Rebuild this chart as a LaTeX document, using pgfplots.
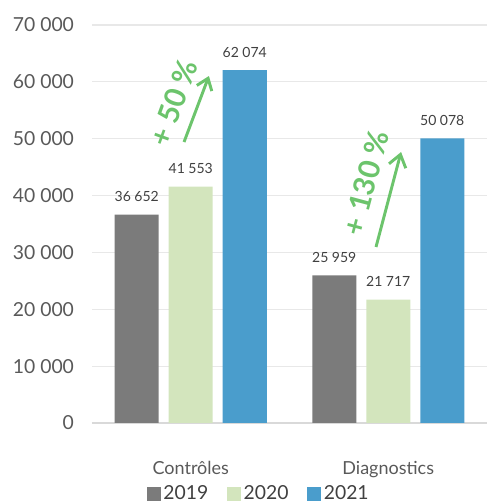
\documentclass[border=0pt]{standalone}
\usepackage{fontspec}
\setmainfont{Lato}
\usepackage{pgfplots}
\pgfplotsset{compat=1.18}
\usetikzlibrary{arrows.meta}
\definecolor{c2019}{HTML}{7B7B7B}
\definecolor{c2020}{HTML}{D3E5BD}
\definecolor{c2021}{HTML}{4A9DCC}
\definecolor{arrowgreen}{HTML}{6CC46C}
\definecolor{gridgray}{HTML}{E8E8E8}
\definecolor{axisgray}{HTML}{D9D9D9}
\definecolor{tickgray}{HTML}{595959}
\definecolor{labelgray}{HTML}{404040}
\begin{document}
\begin{tikzpicture}
\path[use as bounding box] (0,0) rectangle (365.25pt,378pt);
\begin{axis}[
  at={(69pt,60.75pt)}, anchor=south west,
  scale only axis, width=296.25pt, height=298.5pt,
  ybar=7.5pt, bar width=33pt,
  xmin=-0.5, xmax=1.5, ymin=0, ymax=70000,
  xtick={0,1}, xticklabels={Contrôles,Diagnostics},
  ytick={0,10000,...,70000},
  ymajorgrids, grid style={color=gridgray, line width=0.8pt},
  axis x line*=bottom, axis y line*=left,
  y axis line style={draw=none},
  x axis line style={color=axisgray, line width=0.9pt, -},
  major tick length=0pt,
  scaled y ticks=false,
  /pgf/number format/1000 sep={\ },
  /pgf/number format/assume math mode=true,
  yticklabel style={font=\fontsize{14.5}{16}\selectfont, text=tickgray, xshift=-10pt},
  xticklabel style={font=\fontsize{13.5}{15}\selectfont, text=tickgray, yshift=-25.5pt},
  nodes near coords,
  nodes near coords style={font=\fontsize{10.5}{12}\selectfont, text=labelgray, yshift=6pt},
  legend style={at={(0.423,-0.178)}, anchor=center, draw=none, fill=none,
    legend columns=3, font=\fontsize{14.5}{16}\selectfont, text=labelgray,
    /tikz/every even column/.append style={column sep=12pt},
    inner sep=0pt},
  legend image code/.code={\fill[#1] (0pt,-5pt) rectangle (10.5pt,5.5pt);},
]
\addplot[fill=c2019, draw=none] coordinates {(0,36652) (1,25959)};
\addplot[fill=c2020, draw=none] coordinates {(0,41553) (1,21717)};
\addplot[fill=c2021, draw=none] coordinates {(0,62074) (1,50078)};
\legend{2019,2020,2021}
\draw[arrowgreen, line width=2.2pt, -{Straight Barb[length=8pt,width=12pt]}]
  (axis cs:-0.034,49420) -- (axis cs:0.092,61030);
\node[rotate=70, text=arrowgreen, font=\bfseries\fontsize{22}{23}\selectfont]
  at (axis cs:-0.085,56280) {+ 50 \%};
\draw[arrowgreen, line width=2.2pt, -{Straight Barb[length=9pt,width=13pt]}]
  (axis cs:0.938,30955) -- (axis cs:1.065,47665);
\node[rotate=75, text=arrowgreen, font=\bfseries\fontsize{22}{23}\selectfont]
  at (axis cs:0.885,42210) {+ 130 \%};
\end{axis}
\end{tikzpicture}
\end{document}
